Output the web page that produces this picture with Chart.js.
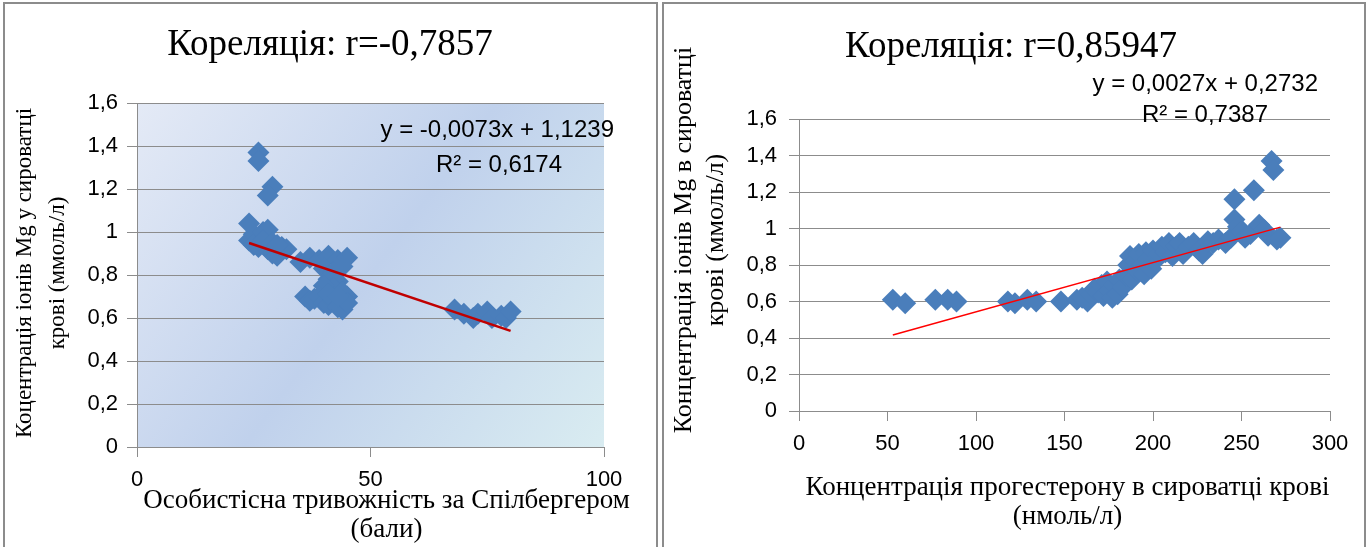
<!DOCTYPE html>
<html>
<head>
<meta charset="utf-8">
<script src="https://cdn.jsdelivr.net/npm/chart.js@4.4.0/dist/chart.umd.min.js"></script>
<style>
  body { margin: 0; background: #fff; width: 1368px; height: 547px; overflow: hidden; position: relative; }
  .panel { position: absolute; top: 0; }
  #p1 { left: 0; width: 660px; height: 547px; }
  #p2 { left: 660px; width: 708px; height: 547px; }
  .frame { position: absolute; border: 2px solid #8c8c8c; border-bottom: none; pointer-events: none; }
</style>
</head>
<body>
<div class="panel" id="p1"><canvas id="anxChart" width="660" height="547"></canvas></div>
<div class="panel" id="p2"><canvas id="progChart" width="708" height="547"></canvas></div>
<div class="frame" style="left:3px;top:2px;width:651px;height:545px;"></div>
<div class="frame" style="left:662px;top:2px;width:700px;height:545px;"></div>

<script>
// left chart: personal anxiety (Spielberger) vs Mg
const anxScore = [26, 26, 29, 28,
  24, 24, 25, 25, 26, 27, 28, 27, 28, 29, 29, 30, 31, 32, 30,
  35, 37, 39, 41, 43, 45,
  40, 42, 44, 41, 43, 42, 44, 45, 40,
  36, 37, 38, 39, 40, 41, 42, 43, 44, 45, 41, 43,
  68, 70, 72, 73, 75, 76, 78, 79, 80];
const anxMg = [1.37, 1.33, 1.21, 1.17,
  1.04, 0.96, 0.99, 0.94, 0.93, 1.00, 1.01, 0.96, 0.92, 0.90, 0.95, 0.89, 0.93, 0.92, 0.94,
  0.86, 0.88, 0.87, 0.89, 0.87, 0.88,
  0.83, 0.81, 0.84, 0.78, 0.77, 0.74, 0.72, 0.70, 0.75,
  0.70, 0.68, 0.69, 0.70, 0.67, 0.66, 0.68, 0.65, 0.64, 0.67, 0.71, 0.70,
  0.64, 0.62, 0.60, 0.62, 0.63, 0.60, 0.61, 0.60, 0.63];
const anxSlope = -0.0073;
const anxIntercept = 1.1239;
const anxXTicks = [0, 50, 100];

// right chart: progesterone vs Mg
const progLevel = [53, 60, 77, 84, 89, 118, 122, 129, 134, 148, 157,
  160, 163, 165, 167, 169, 171, 172, 174, 175, 177, 178, 180, 181, 183, 185,
  186, 187, 188, 190, 191, 192, 194, 195, 196, 197, 199, 200, 201, 203,
  205, 207, 209, 211, 213, 215, 217, 220, 223, 226, 228, 231, 234, 237, 241, 244,
  246, 246, 248, 250, 252, 255, 257, 260, 263, 265, 267, 268, 270, 272];
const progMg = [0.61, 0.59, 0.61, 0.61, 0.60, 0.60, 0.59, 0.61, 0.60, 0.60, 0.61,
  0.62, 0.60, 0.64, 0.67, 0.65, 0.69, 0.63, 0.71, 0.66, 0.62, 0.69, 0.64, 0.72, 0.68, 0.74,
  0.80, 0.85, 0.72, 0.82, 0.77, 0.86, 0.80, 0.75, 0.87, 0.83, 0.78, 0.88, 0.82, 0.86,
  0.90, 0.87, 0.92, 0.85, 0.90, 0.92, 0.86, 0.90, 0.92, 0.88, 0.86, 0.93, 0.92, 0.94, 0.92, 0.95,
  1.16, 1.05, 1.01, 0.98, 0.95, 0.97, 1.21, 1.02, 0.99, 0.96, 1.37, 1.32, 0.94, 0.95];
const progSlope = 0.0027;
const progIntercept = 0.2732;
const progXTicks = [0, 50, 100, 150, 200, 250, 300];

const mgTicks = [0, 0.2, 0.4, 0.6, 0.8, 1, 1.2, 1.4, 1.6];

const SANS = "'Liberation Sans', Arial, sans-serif";
const SERIF = "'Liberation Serif', 'Times New Roman', serif";
const GRID = '#8c8c8c';

function toPoints(xs, ys) {
  return xs.map((x, i) => ({ x: x, y: ys[i] }));
}

function trendPoints(xs, slope, intercept) {
  const lo = Math.min(...xs), hi = Math.max(...xs);
  return [lo, hi].map(x => ({ x: x, y: slope * x + intercept }));
}

const comma = v => String(v).replace('.', ',');

// gradient fill behind the plot area
const plotFill = {
  id: 'plotFill',
  beforeDraw(chart, args, opts) {
    if (!opts.stops) return;
    const { ctx, chartArea: a } = chart;
    const g = ctx.createLinearGradient(a.left, a.top, a.right, a.bottom);
    opts.stops.forEach(s => g.addColorStop(s[0], s[1]));
    ctx.save();
    ctx.fillStyle = g;
    ctx.fillRect(a.left, a.top, a.width, a.height);
    ctx.restore();
  }
};

// heading, axis captions and trendline equation text
const textBits = {
  id: 'textBits',
  afterDraw(chart, args, opts) {
    const { ctx, chartArea: a } = chart;
    ctx.save();
    ctx.fillStyle = '#000';
    ctx.textBaseline = 'middle';
    ctx.textAlign = 'center';
    ctx.font = '37px ' + SERIF;
    ctx.fillText(opts.title, chart.width / 2 + opts.titleDx, opts.titleY);

    ctx.font = opts.xTitleSize + 'px ' + SERIF;
    const cx = (a.left + a.right) / 2 + opts.xTitleDx;
    opts.xTitle.forEach((t, i) => ctx.fillText(t, cx, opts.xTitleY + i * 29));

    ctx.font = opts.yTitleSize + 'px ' + SERIF;
    opts.yTitle.forEach((t, i) => {
      ctx.save();
      ctx.translate(opts.yTitleX + i * opts.yTitleGap, opts.yTitleCy);
      ctx.rotate(-Math.PI / 2);
      ctx.fillText(t, 0, 0);
      ctx.restore();
    });

    ctx.font = '24px ' + SANS;
    ctx.textAlign = 'right';
    opts.eq.forEach(l => ctx.fillText(l.text, a.right + l.dx, a.top + l.dy));
    ctx.restore();
  }
};

function makeChart(id, cfg) {
  return new Chart(document.getElementById(id), {
    type: 'scatter',
    data: {
      datasets: [
        {
          type: 'line',
          data: cfg.trend,
          borderColor: cfg.trendColor,
          borderWidth: cfg.trendWidth,
          pointRadius: 0,
          fill: false,
          order: 0
        },
        {
          data: cfg.points,
          pointStyle: 'rectRot',
          pointRadius: 11,
          pointHoverRadius: 11,
          backgroundColor: '#4a7ebb',
          borderWidth: 0,
          order: 1
        }
      ]
    },
    options: {
      responsive: false,
      animation: false,
      layout: { padding: { left: 0, right: cfg.padRight, top: cfg.padTop, bottom: 0 } },
      plugins: {
        legend: { display: false },
        tooltip: { enabled: false },
        title: { display: false },
        plotFill: { stops: cfg.fill },
        textBits: cfg.text
      },
      scales: {
        x: {
          type: 'linear',
          min: cfg.xTicks[0],
          max: cfg.xTicks[cfg.xTicks.length - 1],
          afterBuildTicks: s => { s.ticks = cfg.xTicks.map(v => ({ value: v })); },
          grid: { drawOnChartArea: false, drawTicks: true, tickLength: 10, color: GRID },
          border: { color: GRID, width: 1 },
          ticks: { color: '#000', padding: 10, maxRotation: 0, font: { family: SANS, size: 22 } },
          afterFit: s => { s.height = 547 - cfg.chartBottom; }
        },
        y: {
          min: 0,
          max: 1.6,
          afterBuildTicks: s => { s.ticks = mgTicks.map(v => ({ value: v })); },
          grid: { color: GRID, tickLength: 10 },
          border: { color: GRID, width: 1 },
          ticks: { color: '#000', padding: cfg.yTickPad, font: { family: SANS, size: 22 }, callback: v => comma(v) },
          afterFit: s => { s.width = cfg.yWidth; }
        }
      }
    },
    plugins: [plotFill, textBits]
  });
}

makeChart('anxChart', {
  points: toPoints(anxScore, anxMg),
  trend: trendPoints(anxScore, anxSlope, anxIntercept),
  trendColor: '#c00000',
  trendWidth: 2.5,
  padTop: 103,
  chartBottom: 447,
  xTicks: anxXTicks,
  yTickPad: 9,
  yWidth: 137,
  padRight: 56,
  fill: [[0, '#e4eaf6'], [0.5, '#c0d1ec'], [1, '#d9ecf1']],
  text: {
    title: 'Кореляція: r=-0,7857', titleDx: 0, titleY: 45,
    xTitle: ['Особистісна тривожність за Спілбергером', '(бали)'],
    xTitleDx: 16, xTitleY: 501, xTitleSize: 27,
    yTitle: ['Коцентрація іонів Mg у сироватці', 'крові (ммоль/л)'],
    yTitleX: 25, yTitleGap: 33, yTitleCy: 273, yTitleSize: 23,
    eq: [
      { text: 'y = -0,0073x + 1,1239', dx: 10, dy: 27 },
      { text: 'R² = 0,6174', dx: -42, dy: 62 }
    ]
  }
});

makeChart('progChart', {
  points: toPoints(progLevel, progMg),
  trend: trendPoints(progLevel, progSlope, progIntercept),
  trendColor: '#ff0000',
  trendWidth: 1.5,
  padTop: 119,
  chartBottom: 411,
  xTicks: progXTicks,
  yTickPad: 12,
  yWidth: 139,
  padRight: 38,
  fill: null,
  text: {
    title: 'Кореляція: r=0,85947', titleDx: -3, titleY: 47,
    xTitle: ['Концентрація прогестерону в сироватці крові', '(нмоль/л)'],
    xTitleDx: 3, xTitleY: 488, xTitleSize: 27,
    yTitle: ['Концентрація іонів Mg в сироватці', 'крові (ммоль/л)'],
    yTitleX: 24, yTitleGap: 32, yTitleCy: 240, yTitleSize: 26,
    eq: [
      { text: 'y = 0,0027x + 0,2732', dx: -12, dy: -35 },
      { text: 'R² = 0,7387', dx: -62, dy: -4 }
    ]
  }
});
</script>
</body>
</html>
